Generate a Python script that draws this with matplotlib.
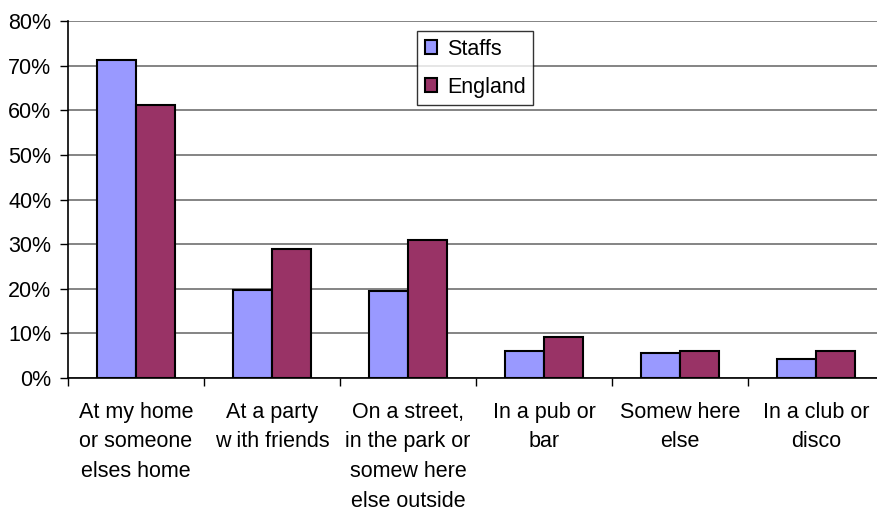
import matplotlib.pyplot as plt
import numpy as np

categories = ["At my home\nor someone\nelses home",
              "At a party\nw ith friends",
              "On a street,\nin the park or\nsomew here\nelse outside",
              "In a pub or\nbar",
              "Somew here\nelse",
              "In a club or\ndisco"]
staffs = [71.3, 19.8, 19.4, 6.0, 5.6, 4.2]
england = [61.2, 28.9, 30.9, 9.2, 6.0, 6.0]
series_names = ["Staffs", "England"]
colors = ["#9999FF", "#993366"]

plt.rcParams['font.family'] = ['Liberation Sans', 'DejaVu Sans']

W, H = 877, 516
fig = plt.figure(figsize=(W / 100, H / 100), dpi=100)
ax = fig.add_axes([68 / W, (H - 378) / H, (884 - 68) / W, (378 - 21) / H])

x = np.arange(len(categories))
bw = 0.285
for vals, name, c, off in zip([staffs, england], series_names, colors, [-0.5, 0.5]):
    ax.bar(x + off * bw, vals, bw, color=c, edgecolor='black', linewidth=1.5,
           label=name, zorder=3)

ax.set_xlim(-0.5, len(categories) - 0.5)
ax.set_ylim(0, 80)
ax.set_yticks(range(0, 81, 10))
ax.set_yticklabels([f"{v}%" for v in range(0, 81, 10)], fontsize=15.5)
ax.yaxis.grid(True, color='#707070', linewidth=1.2, zorder=0)

ax.set_xticks(x)
ax.set_xticklabels(categories, fontsize=15.5, linespacing=1.54)
ax.set_xticks(np.arange(-0.5, len(categories), 1), minor=True)
ax.tick_params(axis='x', which='major', length=0, pad=17)
ax.tick_params(axis='x', which='minor', length=6, direction='out', width=1)
ax.tick_params(axis='y', length=6, direction='out', width=1, pad=6)

for s in ['top', 'right']:
    ax.spines[s].set_visible(False)
for s in ['left', 'bottom']:
    ax.spines[s].set_linewidth(1.2)
    ax.spines[s].set_color('black')

leg = ax.legend(loc='upper left', bbox_to_anchor=(417 / W, 1 - 31 / H),
                bbox_transform=fig.transFigure, fontsize=15.5, frameon=True,
                fancybox=False, edgecolor='black', handlelength=0.6,
                handleheight=0.6, handletextpad=0.45, labelspacing=0.8,
                borderpad=0.35, borderaxespad=0)
leg.get_frame().set_linewidth(1.0)

fig.savefig("out.png", dpi=100)
